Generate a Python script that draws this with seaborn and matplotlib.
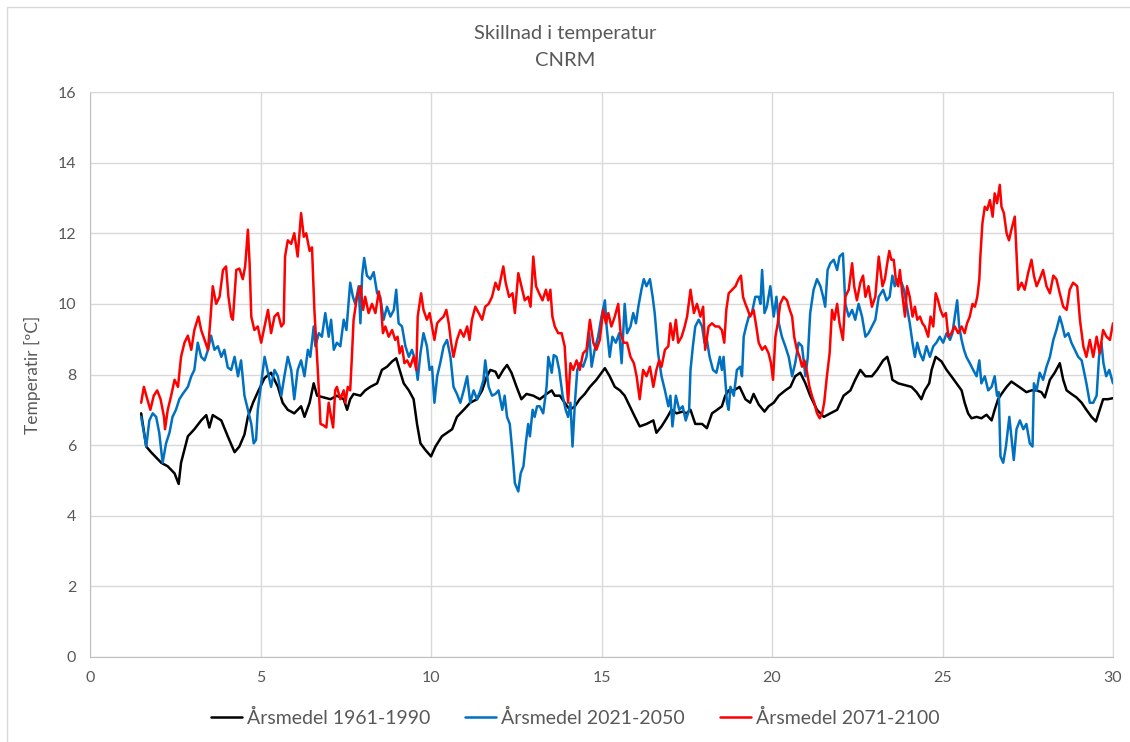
import matplotlib
matplotlib.use("Agg")
import matplotlib.pyplot as plt
import matplotlib.patches as mpatches
import pandas as pd
import seaborn as sns

# Årsmedel 1961-1990 (svart)
x_1961 = [1.50, 1.65, 1.79, 2.09, 2.28, 2.48, 2.60, 2.67, 2.87, 3.06, 3.26, 3.41, 3.50, 3.60, 3.85,
          4.04, 4.24, 4.38, 4.53, 4.63, 4.78, 4.92, 5.12, 5.31, 5.51, 5.65, 5.80, 5.99, 6.19, 6.29,
          6.44, 6.56, 6.66, 6.85, 7.05, 7.24, 7.44, 7.54, 7.63, 7.73, 7.93, 8.07, 8.22, 8.42, 8.56,
          8.71, 8.86, 8.98, 9.08, 9.20, 9.35, 9.49, 9.59, 9.69, 9.83, 10.00, 10.13, 10.32, 10.47, 10.62,
          10.76, 10.96, 11.15, 11.35, 11.50, 11.64, 11.74, 11.89, 11.98, 12.12, 12.23, 12.36, 12.51, 12.65, 12.80,
          13.00, 13.19, 13.39, 13.54, 13.63, 13.78, 13.92, 14.07, 14.22, 14.36, 14.51, 14.66, 14.85, 15.00, 15.10,
          15.24, 15.39, 15.54, 15.68, 15.83, 15.98, 16.12, 16.32, 16.52, 16.61, 16.76, 16.91, 17.05, 17.20, 17.38,
          17.49, 17.61, 17.75, 17.95, 18.09, 18.24, 18.39, 18.53, 18.63, 18.73, 18.88, 19.05, 19.22, 19.36, 19.46,
          19.61, 19.78, 19.90, 20.05, 20.20, 20.39, 20.54, 20.68, 20.83, 20.98, 21.12, 21.32, 21.52, 21.71, 21.91,
          22.10, 22.30, 22.44, 22.59, 22.74, 22.93, 23.08, 23.26, 23.38, 23.46, 23.53, 23.70, 23.90, 24.09, 24.24,
          24.38, 24.48, 24.61, 24.68, 24.80, 24.97, 25.12, 25.26, 25.41, 25.56, 25.65, 25.75, 25.85, 26.00, 26.14,
          26.29, 26.44, 26.53, 26.63, 26.73, 26.88, 27.02, 27.17, 27.32, 27.46, 27.61, 27.76, 27.90, 28.00, 28.15,
          28.29, 28.44, 28.54, 28.64, 28.78, 28.93, 29.08, 29.22, 29.37, 29.50, 29.61, 29.71, 29.85, 30.00]
y_1961 = [6.90, 5.96, 5.80, 5.50, 5.40, 5.20, 4.90, 5.50, 6.25, 6.45, 6.70, 6.85, 6.50, 6.85, 6.70,
          6.25, 5.80, 5.96, 6.30, 6.80, 7.20, 7.50, 7.90, 8.05, 7.65, 7.20, 7.00, 6.90, 7.10, 6.80,
          7.20, 7.75, 7.40, 7.35, 7.30, 7.40, 7.30, 7.00, 7.30, 7.45, 7.40, 7.55, 7.65, 7.75, 8.13,
          8.22, 8.37, 8.46, 8.13, 7.75, 7.55, 7.30, 6.60, 6.05, 5.87, 5.68, 5.96, 6.25, 6.35, 6.45,
          6.80, 7.00, 7.20, 7.30, 7.55, 7.95, 8.13, 8.08, 7.90, 8.13, 8.27, 8.05, 7.65, 7.30, 7.45,
          7.40, 7.30, 7.45, 7.55, 7.40, 7.40, 7.20, 7.00, 7.10, 7.30, 7.45, 7.65, 7.85, 8.05, 8.18,
          7.95, 7.65, 7.55, 7.40, 7.10, 6.80, 6.53, 6.60, 6.70, 6.35, 6.53, 6.76, 7.00, 6.90, 6.95,
          6.90, 7.00, 6.60, 6.60, 6.48, 6.90, 7.00, 7.10, 7.40, 7.55, 7.55, 7.65, 7.30, 7.20, 7.45,
          7.15, 6.95, 7.10, 7.20, 7.40, 7.55, 7.65, 7.95, 8.05, 7.75, 7.40, 7.00, 6.80, 6.90, 7.00,
          7.40, 7.55, 7.85, 8.13, 7.95, 7.95, 8.13, 8.40, 8.50, 8.22, 7.85, 7.75, 7.70, 7.65, 7.50,
          7.30, 7.55, 7.75, 8.13, 8.50, 8.37, 8.13, 7.95, 7.75, 7.55, 7.20, 6.90, 6.76, 6.80, 6.76,
          6.86, 6.70, 7.00, 7.30, 7.45, 7.65, 7.80, 7.70, 7.60, 7.50, 7.55, 7.55, 7.50, 7.35, 7.85,
          8.05, 8.32, 7.85, 7.55, 7.45, 7.35, 7.20, 7.00, 6.80, 6.67, 7.00, 7.30, 7.30, 7.33]

# Årsmedel 2021-2050 (blå)
x_2021 = [1.50, 1.60, 1.65, 1.74, 1.84, 1.94, 2.03, 2.13, 2.23, 2.33, 2.42, 2.52, 2.62, 2.72, 2.87,
          2.97, 3.06, 3.16, 3.26, 3.36, 3.46, 3.55, 3.65, 3.75, 3.85, 3.94, 4.04, 4.14, 4.24, 4.34,
          4.43, 4.53, 4.63, 4.73, 4.80, 4.87, 4.92, 5.02, 5.12, 5.22, 5.31, 5.41, 5.51, 5.61, 5.70,
          5.80, 5.90, 5.99, 6.09, 6.19, 6.29, 6.39, 6.46, 6.56, 6.61, 6.71, 6.80, 6.90, 7.00, 7.07,
          7.15, 7.24, 7.34, 7.44, 7.52, 7.59, 7.63, 7.71, 7.78, 7.88, 7.93, 7.98, 8.04, 8.12, 8.22,
          8.32, 8.42, 8.51, 8.61, 8.71, 8.81, 8.91, 8.98, 9.05, 9.15, 9.25, 9.35, 9.44, 9.54, 9.61,
          9.69, 9.78, 9.88, 9.96, 10.03, 10.10, 10.18, 10.27, 10.37, 10.47, 10.57, 10.66, 10.76, 10.86, 10.96,
          11.06, 11.15, 11.25, 11.35, 11.45, 11.54, 11.59, 11.69, 11.79, 11.89, 11.98, 12.09, 12.16, 12.23, 12.31,
          12.39, 12.46, 12.56, 12.63, 12.71, 12.78, 12.85, 12.90, 12.98, 13.04, 13.11, 13.19, 13.29, 13.39, 13.44,
          13.54, 13.60, 13.68, 13.76, 13.86, 13.95, 14.02, 14.09, 14.15, 14.22, 14.29, 14.36, 14.46, 14.56, 14.64,
          14.71, 14.80, 14.90, 15.00, 15.10, 15.15, 15.24, 15.32, 15.42, 15.52, 15.59, 15.68, 15.75, 15.85, 15.93,
          16.01, 16.08, 16.17, 16.24, 16.32, 16.42, 16.50, 16.56, 16.66, 16.76, 16.86, 16.96, 17.02, 17.08, 17.18,
          17.28, 17.38, 17.47, 17.57, 17.61, 17.68, 17.75, 17.85, 17.95, 18.02, 18.09, 18.17, 18.27, 18.37, 18.47,
          18.53, 18.58, 18.68, 18.73, 18.78, 18.88, 18.97, 19.07, 19.12, 19.17, 19.24, 19.32, 19.41, 19.51, 19.61,
          19.66, 19.71, 19.78, 19.85, 19.95, 20.05, 20.13, 20.20, 20.29, 20.39, 20.49, 20.59, 20.68, 20.78, 20.88,
          20.98, 21.05, 21.12, 21.22, 21.32, 21.42, 21.50, 21.56, 21.63, 21.71, 21.81, 21.91, 21.98, 22.08, 22.15,
          22.25, 22.35, 22.44, 22.54, 22.64, 22.74, 22.83, 22.93, 23.03, 23.13, 23.26, 23.36, 23.45, 23.53, 23.60,
          23.70, 23.80, 23.87, 23.94, 24.04, 24.12, 24.19, 24.26, 24.34, 24.43, 24.53, 24.63, 24.73, 24.82, 24.92,
          25.02, 25.12, 25.22, 25.29, 25.36, 25.43, 25.49, 25.56, 25.63, 25.70, 25.80, 25.90, 26.00, 26.08, 26.14,
          26.24, 26.34, 26.44, 26.53, 26.60, 26.65, 26.70, 26.78, 26.86, 26.96, 27.02, 27.09, 27.17, 27.27, 27.37,
          27.46, 27.56, 27.64, 27.68, 27.76, 27.85, 27.95, 28.05, 28.15, 28.25, 28.34, 28.44, 28.52, 28.59, 28.69,
          28.78, 28.88, 28.98, 29.08, 29.14, 29.22, 29.32, 29.42, 29.52, 29.59, 29.66, 29.72, 29.80, 29.89, 30.00]
y_2021 = [6.80, 6.25, 5.96, 6.70, 6.90, 6.80, 6.35, 5.50, 6.05, 6.35, 6.80, 7.00, 7.30, 7.45, 7.65,
          7.95, 8.13, 8.90, 8.50, 8.40, 8.70, 9.10, 8.70, 8.80, 8.50, 8.70, 8.20, 8.13, 8.50, 7.95,
          8.40, 7.40, 7.00, 6.60, 6.05, 6.15, 7.00, 7.75, 8.50, 8.05, 7.65, 8.13, 7.95, 7.40, 7.95,
          8.50, 8.13, 7.30, 8.13, 8.40, 7.95, 8.70, 8.50, 9.36, 8.80, 9.17, 9.07, 9.74, 9.07, 9.55,
          8.70, 8.90, 8.80, 9.55, 9.26, 10.10, 10.60, 10.20, 10.00, 10.50, 9.45, 10.80, 11.30, 10.80, 10.70,
          10.90, 10.30, 10.20, 9.55, 9.92, 9.64, 9.83, 10.40, 9.45, 9.36, 8.80, 8.50, 8.70, 8.40, 7.85,
          8.60, 9.17, 8.80, 8.13, 8.22, 7.20, 7.95, 8.32, 8.80, 8.98, 8.50, 7.65, 7.45, 7.20, 7.55,
          7.95, 7.20, 7.55, 7.30, 7.55, 7.85, 8.40, 7.65, 7.40, 7.45, 7.55, 7.00, 7.40, 6.80, 6.60,
          5.77, 4.92, 4.69, 5.20, 5.40, 6.05, 6.60, 6.25, 7.00, 6.80, 7.10, 7.10, 6.90, 7.65, 8.50,
          8.05, 8.55, 8.50, 8.13, 7.40, 7.00, 6.80, 7.20, 5.96, 7.20, 8.13, 8.32, 8.22, 8.50, 9.17,
          8.22, 8.70, 9.07, 9.64, 10.10, 9.36, 8.50, 9.07, 8.90, 9.17, 8.32, 10.00, 9.17, 9.36, 9.74,
          9.45, 9.92, 10.40, 10.70, 10.50, 10.70, 10.20, 9.74, 8.60, 7.95, 7.55, 7.10, 7.40, 6.53, 7.40,
          7.00, 7.10, 6.70, 7.00, 8.13, 8.80, 9.36, 9.55, 9.36, 8.90, 8.98, 8.50, 8.13, 8.05, 8.50,
          8.13, 8.50, 7.20, 7.00, 7.65, 7.40, 8.13, 8.22, 7.95, 9.07, 9.36, 9.64, 9.74, 10.20, 10.20,
          10.00, 10.96, 9.74, 9.92, 10.50, 9.64, 10.20, 9.45, 9.07, 8.80, 8.50, 7.95, 8.32, 8.90, 8.80,
          7.95, 8.50, 9.74, 10.40, 10.70, 10.50, 10.20, 9.92, 10.96, 11.15, 11.25, 10.96, 11.34, 11.43, 10.00,
          9.64, 9.83, 9.55, 10.00, 9.64, 9.07, 9.17, 9.36, 9.55, 10.20, 10.40, 10.10, 10.20, 10.80, 10.50,
          10.70, 10.60, 10.40, 10.00, 9.45, 8.90, 8.50, 8.90, 8.60, 8.40, 8.80, 8.50, 8.80, 8.90, 9.07,
          8.90, 9.17, 8.98, 9.17, 9.64, 10.10, 9.36, 8.98, 8.70, 8.50, 8.32, 8.13, 7.95, 8.40, 7.75,
          7.95, 7.55, 7.65, 7.95, 7.40, 7.50, 5.68, 5.50, 5.96, 6.80, 6.25, 5.58, 6.45, 6.70, 6.45,
          6.60, 6.05, 5.96, 7.75, 7.55, 8.05, 7.85, 8.22, 8.50, 8.98, 9.26, 9.64, 9.36, 9.07, 9.17,
          8.90, 8.70, 8.50, 8.40, 8.13, 7.75, 7.20, 7.20, 7.40, 8.50, 8.90, 8.32, 7.95, 8.13, 7.75]

# Årsmedel 2071-2100 (röd)
x_2071 = [1.50, 1.58, 1.68, 1.77, 1.87, 1.97, 2.07, 2.17, 2.20, 2.28, 2.38, 2.48, 2.58, 2.67, 2.77,
          2.87, 2.97, 3.06, 3.18, 3.26, 3.36, 3.46, 3.53, 3.60, 3.70, 3.80, 3.90, 3.99, 4.06, 4.14,
          4.19, 4.29, 4.38, 4.48, 4.55, 4.63, 4.68, 4.73, 4.82, 4.92, 5.02, 5.12, 5.22, 5.31, 5.41,
          5.51, 5.61, 5.68, 5.72, 5.80, 5.90, 5.99, 6.09, 6.19, 6.27, 6.34, 6.44, 6.51, 6.58, 6.68,
          6.76, 6.83, 6.93, 7.00, 7.07, 7.13, 7.19, 7.24, 7.34, 7.44, 7.49, 7.56, 7.63, 7.68, 7.73,
          7.83, 7.93, 8.01, 8.07, 8.17, 8.27, 8.37, 8.47, 8.53, 8.59, 8.66, 8.76, 8.86, 8.95, 9.02,
          9.08, 9.15, 9.22, 9.30, 9.39, 9.49, 9.57, 9.61, 9.71, 9.78, 9.88, 9.96, 10.03, 10.10, 10.18,
          10.27, 10.37, 10.45, 10.52, 10.59, 10.66, 10.76, 10.86, 10.96, 11.06, 11.13, 11.20, 11.30, 11.40, 11.50,
          11.59, 11.69, 11.79, 11.89, 11.98, 12.12, 12.19, 12.29, 12.39, 12.46, 12.56, 12.65, 12.75, 12.85, 12.92,
          13.00, 13.08, 13.17, 13.27, 13.37, 13.44, 13.50, 13.56, 13.63, 13.73, 13.83, 13.92, 13.97, 14.02, 14.09,
          14.17, 14.27, 14.36, 14.46, 14.56, 14.66, 14.76, 14.85, 14.95, 15.05, 15.13, 15.20, 15.29, 15.39, 15.49,
          15.56, 15.65, 15.75, 15.85, 15.95, 16.03, 16.12, 16.22, 16.32, 16.42, 16.52, 16.61, 16.69, 16.76, 16.86,
          16.96, 17.02, 17.10, 17.18, 17.25, 17.35, 17.44, 17.51, 17.61, 17.71, 17.80, 17.90, 17.98, 18.04, 18.14,
          18.24, 18.34, 18.44, 18.53, 18.60, 18.66, 18.73, 18.83, 18.93, 19.02, 19.09, 19.15, 19.22, 19.29, 19.36,
          19.46, 19.54, 19.61, 19.71, 19.80, 19.90, 19.97, 20.03, 20.10, 20.17, 20.24, 20.34, 20.44, 20.52, 20.59,
          20.65, 20.73, 20.81, 20.88, 20.95, 21.03, 21.10, 21.17, 21.24, 21.32, 21.40, 21.47, 21.53, 21.61, 21.69,
          21.76, 21.83, 21.91, 21.98, 22.08, 22.15, 22.25, 22.35, 22.41, 22.49, 22.59, 22.67, 22.74, 22.83, 22.93,
          23.03, 23.13, 23.24, 23.31, 23.38, 23.44, 23.50, 23.57, 23.63, 23.70, 23.75, 23.83, 23.90, 23.96, 24.04,
          24.12, 24.19, 24.26, 24.34, 24.41, 24.48, 24.58, 24.65, 24.73, 24.80, 24.87, 24.94, 25.02, 25.10, 25.17,
          25.26, 25.36, 25.46, 25.56, 25.65, 25.72, 25.80, 25.88, 25.95, 26.02, 26.08, 26.11, 26.17, 26.24, 26.31,
          26.39, 26.47, 26.53, 26.60, 26.68, 26.73, 26.80, 26.88, 26.95, 27.02, 27.12, 27.17, 27.22, 27.32, 27.41,
          27.51, 27.61, 27.68, 27.76, 27.85, 27.95, 28.05, 28.15, 28.25, 28.34, 28.44, 28.54, 28.64, 28.73, 28.83,
          28.95, 29.03, 29.13, 29.22, 29.32, 29.42, 29.52, 29.61, 29.71, 29.81, 29.91, 30.00]
y_2071 = [7.20, 7.65, 7.30, 7.00, 7.40, 7.55, 7.30, 6.80, 6.45, 7.00, 7.40, 7.85, 7.65, 8.50, 8.90,
          9.10, 8.70, 9.26, 9.64, 9.26, 8.98, 8.70, 9.55, 10.50, 10.00, 10.20, 10.96, 11.06, 10.20, 9.64,
          9.55, 10.96, 11.00, 10.70, 11.06, 12.10, 11.15, 9.64, 9.26, 9.36, 8.90, 9.36, 9.83, 9.17, 9.64,
          9.74, 9.36, 9.45, 11.34, 11.80, 11.70, 12.00, 11.34, 12.57, 11.90, 12.00, 11.50, 11.60, 9.83, 8.13,
          6.60, 6.57, 6.50, 7.20, 6.80, 6.50, 7.55, 7.65, 7.30, 7.55, 7.20, 7.65, 7.55, 8.50, 9.55,
          10.20, 10.50, 9.83, 10.20, 9.74, 10.00, 9.74, 10.35, 10.00, 9.17, 9.36, 9.07, 9.26, 8.98, 9.07,
          8.60, 8.80, 8.32, 8.40, 8.22, 8.50, 8.13, 9.64, 10.30, 9.83, 9.55, 9.74, 9.36, 8.98, 9.45,
          9.55, 9.64, 9.83, 9.45, 8.90, 8.50, 8.98, 9.26, 9.07, 9.36, 8.98, 9.55, 9.92, 9.74, 9.55,
          9.92, 10.00, 10.20, 10.60, 10.40, 11.06, 10.60, 10.20, 10.30, 9.74, 10.87, 10.50, 10.10, 10.20, 9.92,
          11.34, 10.50, 10.30, 10.10, 10.40, 10.10, 10.40, 9.64, 9.36, 9.17, 9.17, 8.80, 7.95, 7.20, 8.32,
          8.13, 8.40, 8.13, 8.60, 8.70, 9.55, 8.90, 8.70, 8.98, 9.83, 9.45, 9.74, 9.36, 9.64, 10.00,
          9.17, 8.90, 8.90, 8.50, 8.32, 7.95, 7.30, 8.13, 7.95, 8.22, 7.65, 8.13, 8.40, 8.22, 8.70,
          8.80, 9.45, 8.98, 9.55, 8.90, 9.07, 9.36, 9.64, 10.40, 9.74, 10.00, 9.64, 9.92, 8.70, 9.36,
          9.45, 9.36, 9.36, 9.26, 8.90, 9.83, 10.30, 10.40, 10.50, 10.70, 10.80, 10.20, 10.00, 9.83, 9.64,
          9.83, 9.36, 8.90, 8.70, 8.80, 8.60, 8.32, 7.85, 9.07, 9.45, 10.00, 10.20, 10.10, 9.83, 9.64,
          9.07, 8.70, 8.50, 8.22, 8.40, 8.05, 7.65, 7.40, 7.20, 6.90, 6.76, 6.90, 7.20, 7.95, 8.60,
          9.83, 9.55, 10.00, 9.45, 8.98, 10.20, 10.40, 11.15, 10.50, 10.10, 10.60, 10.80, 10.20, 10.50, 9.92,
          10.20, 11.34, 10.50, 10.70, 11.15, 11.50, 11.25, 11.25, 10.70, 10.50, 10.96, 10.20, 9.64, 10.50, 10.20,
          9.64, 9.92, 9.55, 9.64, 9.45, 9.36, 9.07, 9.64, 9.36, 10.30, 10.10, 9.83, 9.64, 9.74, 9.07,
          9.17, 9.36, 9.17, 9.36, 9.17, 9.45, 9.64, 10.00, 9.92, 10.20, 10.70, 11.34, 12.28, 12.75, 12.66,
          12.94, 12.47, 13.13, 12.85, 13.37, 12.75, 12.57, 12.00, 11.80, 12.10, 12.47, 11.43, 10.40, 10.60, 10.40,
          10.87, 11.25, 10.80, 10.50, 10.70, 10.96, 10.50, 10.30, 10.80, 10.70, 10.30, 9.92, 9.83, 10.40, 10.60,
          10.50, 9.55, 8.80, 8.50, 8.98, 8.50, 9.07, 8.60, 9.26, 9.07, 8.98, 9.45]

series_labels = ["Årsmedel 1961-1990", "Årsmedel 2021-2050", "Årsmedel 2071-2100"]
series_colors = ["#000000", "#0070C0", "#FF0000"]
x_ticks = [0, 5, 10, 15, 20, 25, 30]
y_ticks = [0, 2, 4, 6, 8, 10, 12, 14, 16]

TEXT = "#595959"
GRID = "#d9d9d9"

sns.set_style("white")
plt.rcParams["font.family"] = ["Lato", "DejaVu Sans"]

fig = plt.figure(figsize=(11.3, 7.42), dpi=100)
ax = fig.add_axes([90 / 1130, 1 - 657 / 742, (1113 - 90) / 1130, (657 - 92) / 742])

# ram runt diagramytan (Excel-stil)
fig.patches.append(mpatches.Rectangle((7 / 1130, -0.05), 1.1, 1 - 7 / 742 + 0.05,
                                      transform=fig.transFigure, fill=False,
                                      edgecolor="#d9d9d9", linewidth=1))

for xs, ys, label, color in zip([x_1961, x_2021, x_2071], [y_1961, y_2021, y_2071],
                                series_labels, series_colors):
    df = pd.DataFrame({"x": xs, "y": ys})
    sns.lineplot(data=df, x="x", y="y", ax=ax, color=color, linewidth=1.8,
                 label=label, estimator=None, sort=False)

ax.set_xlim(0, 30)
ax.set_ylim(0, 16)
ax.set_xticks(x_ticks)
ax.set_yticks(y_ticks)
ax.grid(True, color=GRID, linewidth=1)
ax.set_axisbelow(True)
for side in ["top", "right"]:
    ax.spines[side].set_color(GRID)
for side in ["left", "bottom"]:
    ax.spines[side].set_color("#bfbfbf")
ax.tick_params(length=0, labelsize=11.5, labelcolor=TEXT, pad=10)

ax.set_xlabel("")
ax.set_ylabel("Temperatir [ºC]", fontsize=12.5, color=TEXT, labelpad=12)

fig.text(0.5, 1 - 33 / 742, "Skillnad i temperatur", ha="center", va="center",
         fontsize=14.5, color=TEXT)
fig.text(0.5, 1 - 60 / 742, "CNRM", ha="center", va="center", fontsize=14.5, color=TEXT)

ax.legend(loc="center", bbox_to_anchor=(575 / 1130, 1 - 718 / 742), bbox_transform=fig.transFigure,
          ncol=3, frameon=False, fontsize=14, labelcolor=TEXT, handlelength=1.6,
          handletextpad=0.25, columnspacing=1.8)

fig.savefig("out.png", dpi=100)
